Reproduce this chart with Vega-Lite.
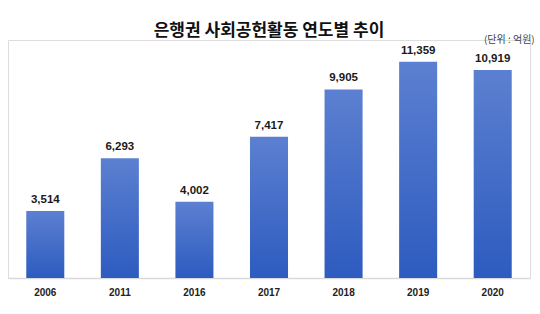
{
  "$schema": "https://vega.github.io/schema/vega-lite/v6.json",
  "width": 522,
  "height": 238,
  "autosize": "none",
  "padding": {"left": 8, "top": 40, "right": 10, "bottom": 36},
  "background": "white",
  "title": {
    "text": "은행권 사회공헌활동 연도별 추이",
    "font": "Noto Sans CJK KR",
    "fontSize": 17,
    "fontWeight": "bold",
    "color": "#111111",
    "anchor": "middle",
    "offset": -5
  },
  "data": {
    "values": [
      {"year": "2006", "value": 3514},
      {"year": "2011", "value": 6293},
      {"year": "2016", "value": 4002},
      {"year": "2017", "value": 7417},
      {"year": "2018", "value": 9905},
      {"year": "2019", "value": 11359},
      {"year": "2020", "value": 10919}
    ]
  },
  "encoding": {
    "x": {
      "field": "year",
      "type": "nominal",
      "sort": null,
      "scale": {"paddingInner": 0.49, "paddingOuter": 0.245},
      "axis": {
        "title": null,
        "labelAngle": 0,
        "ticks": false,
        "domainColor": "#d9d9d9",
        "domainWidth": 1.5,
        "labelFont": "Liberation Sans",
        "labelFontSize": 10,
        "labelFontWeight": "bold",
        "labelColor": "#222222",
        "labelPadding": 9,
        "grid": false
      }
    },
    "y": {
      "field": "value",
      "type": "quantitative",
      "scale": {"domain": [0, 12500], "nice": false},
      "axis": null
    }
  },
  "layer": [
    {
      "mark": {
        "type": "bar",
        "color": {
          "gradient": "linear",
          "x1": 0, "y1": 0, "x2": 0, "y2": 1,
          "stops": [
            {"offset": 0, "color": "#5c80d1"},
            {"offset": 1, "color": "#2d5bbf"}
          ]
        }
      }
    },
    {
      "mark": {
        "type": "text",
        "baseline": "bottom",
        "dy": -6,
        "font": "Liberation Sans",
        "fontSize": 11.5,
        "fontWeight": "bold",
        "color": "#1a1a1a"
      },
      "encoding": {
        "text": {"field": "value", "type": "quantitative", "format": ","}
      }
    },
    {
      "data": {"values": [{"note": "(단위 : 억원)", "year": "2020", "pos": 12500}]},
      "mark": {
        "type": "text",
        "align": "right",
        "baseline": "middle",
        "dx": 42,
        "font": "Noto Sans CJK KR",
        "fontSize": 10,
        "color": "#444444"
      },
      "encoding": {
        "x": {"field": "year", "type": "nominal"},
        "y": {"field": "pos", "type": "quantitative"},
        "text": {"field": "note"}
      }
    }
  ]
}
